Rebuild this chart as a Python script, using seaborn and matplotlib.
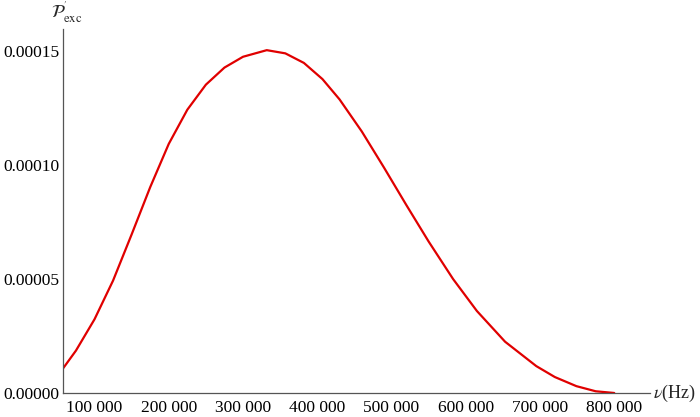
import numpy as np
import pandas as pd
import seaborn as sns
from matplotlib import pyplot as plt
from matplotlib.ticker import MultipleLocator, FuncFormatter

# values (Hz, probability density)
nu = [57000, 75000, 100000, 125000, 150000, 175000, 200000, 225000, 250000,
      275000, 300000, 332000, 357000, 382000, 407000, 430000, 460000, 490000,
      520000, 550000, 583000, 615000, 653000, 695000, 720000, 749000, 775000,
      800000]
p_exc = [1.05e-5, 1.86e-5, 3.235e-5, 4.935e-5, 6.96e-5, 9.035e-5, 1.0935e-4, 1.2435e-4, 1.3535e-4,
         1.4285e-4, 1.476e-4, 1.505e-4, 1.491e-4, 1.449e-4, 1.378e-4, 1.289e-4, 1.148e-4, 9.89e-5,
         8.25e-5, 6.65e-5, 5.0e-5, 3.6e-5, 2.25e-5, 1.18e-5, 7.0e-6, 3.0e-6, 7.5e-7,
         0.0]

df = pd.DataFrame({'nu': nu, 'p': p_exc})

sns.set_theme(style="white")
plt.rcParams['font.family'] = ['Liberation Serif', 'DejaVu Serif']
plt.rcParams['mathtext.fontset'] = 'stix'

fig = plt.figure(figsize=(7, 4.17), dpi=100)
ax = fig.add_axes([0.0894, 0.0576, 0.839, 0.874])
sns.lineplot(data=df, x='nu', y='p', color='#e00000', linewidth=1.6, ax=ax)

ax.set_xlim(57000, 848000)
ax.set_ylim(0, 0.00016)
ax.set_xlabel('')
ax.set_ylabel('')

for s in ['top', 'right']:
    ax.spines[s].set_visible(False)
for s in ['left', 'bottom']:
    ax.spines[s].set_color('#555555')
    ax.spines[s].set_linewidth(0.9)

ax.xaxis.set_major_locator(MultipleLocator(100000))
ax.xaxis.set_minor_locator(MultipleLocator(20000))
ax.yaxis.set_major_locator(MultipleLocator(0.00005))
ax.yaxis.set_minor_locator(MultipleLocator(0.00001))
ax.xaxis.set_major_formatter(FuncFormatter(lambda v, pos: f"{v:,.0f}".replace(",", " ")))
ax.yaxis.set_major_formatter(FuncFormatter(lambda v, pos: f"{v:.5f}"))
ax.tick_params(which='both', direction='in', color='#555555', labelsize=12.5, labelcolor='black')
ax.tick_params(which='major', length=4.5, width=0.8)
ax.tick_params(which='minor', length=2.5, width=0.6)
ax.tick_params(axis='x', pad=5)
ax.tick_params(axis='y', pad=2)

ax.text(1.005, 0.0, r'$\nu$(Hz)', transform=ax.transAxes, fontsize=13,
        ha='left', va='center')
ax.text(-0.02, 1.01, r"$\mathcal{P}^{'}_{\rm exc}$", transform=ax.transAxes,
        fontsize=13, ha='left', va='bottom')

fig.savefig('out.png', dpi=100)
